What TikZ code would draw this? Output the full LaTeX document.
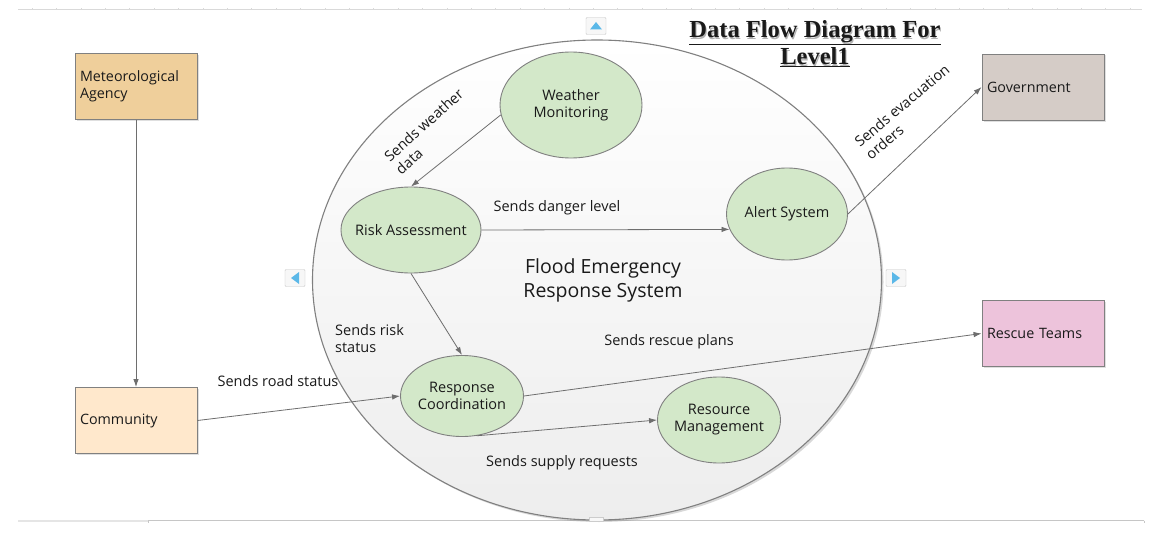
\documentclass[tikz,border=0pt]{standalone}
\usepackage{fontspec}
\setmainfont{Open Sans}
\newfontfamily\titlefont{Liberation Serif}
\usetikzlibrary{shapes.geometric,arrows.meta,shadows,calc}
\definecolor{metc}{HTML}{EFCF9B}
\definecolor{comc}{HTML}{FFE8CC}
\definecolor{govc}{HTML}{D5CCC7}
\definecolor{resc}{HTML}{EDC3DB}
\definecolor{procc}{HTML}{D3E8C9}
\definecolor{edgec}{HTML}{808080}
\definecolor{arrc}{HTML}{6E6E6E}
\definecolor{navc}{HTML}{5BB8E8}
\definecolor{txtc}{HTML}{1A1A1A}
\tikzset{
  entity/.style={rectangle, draw=edgec, line width=0.9pt, minimum width=122pt, minimum height=66pt,
    text width=112pt, align=left, inner sep=5pt, font=\fontsize{14.3}{17}\selectfont, text=txtc,
    drop shadow={opacity=0.25, shadow xshift=1.5pt, shadow yshift=-1.5pt}},
  proc/.style={ellipse, draw=edgec, line width=0.9pt, fill=procc, inner xsep=-20pt, inner ysep=-8pt, align=center,
    font=\fontsize{14.5}{17}\selectfont, text=txtc},
  flow/.style={draw=arrc, line width=0.8pt, -{Latex[length=8pt,width=5.5pt]}},
  lbl/.style={font=\fontsize{14.5}{17}\selectfont, text=txtc, inner sep=0pt},
  navbtn/.style={draw=gray!45, fill=gray!6, rounded corners=1pt, minimum width=20pt, minimum height=17pt, inner sep=0pt}
}
\begin{document}
\begin{tikzpicture}[x=1pt,y=-1pt]
\useasboundingbox (0,0) rectangle (1163,535);
\fill[white] (0,0) rectangle (1163,535);
% rulers
\draw[gray!30, line width=1pt] (18,10) -- (1142,10);
\foreach \i in {0,...,45} { \draw[gray!30, line width=0.6pt] ({32+24.4*\i},10) -- ({32+24.4*\i},8); }
\draw[gray!20, line width=1.2pt] (18,521) -- (148,521);
\draw[gray!45, line width=0.8pt] (148,520.5) -- (1144,520.5);
\draw[gray!45, line width=0.8pt] (148,520.5) -- (148,523);
\draw[gray!45, line width=0.8pt] (1144,520.5) -- (1144,523);
% system boundary
\node[ellipse, draw=edgec, line width=1.1pt, minimum width=569pt, minimum height=480pt, inner sep=0pt,
  top color=white, bottom color=gray!14,
  drop shadow={opacity=0.3, shadow xshift=2pt, shadow yshift=-2pt}] (sys) at (597,280) {};
\node[navbtn] (navt) at (596,26) {};
\fill[navc] ($(navt.center)+(-6,3.5)$) -- ($(navt.center)+(6,3.5)$) -- ($(navt.center)+(0,-4)$) -- cycle;
\node[navbtn] (navl) at (295,278) {};
\fill[navc] ($(navl.center)+(4,-6)$) -- ($(navl.center)+(4,6)$) -- ($(navl.center)+(-4,0)$) -- cycle;
\node[navbtn] (navr) at (896,278) {};
\fill[navc] ($(navr.center)+(-4,-6)$) -- ($(navr.center)+(-4,6)$) -- ($(navr.center)+(4,0)$) -- cycle;
\node[draw=gray!40, fill=gray!6, minimum width=14pt, minimum height=4pt, inner sep=0pt] (navb) at (596,519) {};
% title
\node[font=\titlefont\bfseries\fontsize{24.5}{27}\selectfont, text=gray!60, align=center, inner sep=0pt] (titlesh) at (816,45)
  {Data Flow Diagram For\\Level1};
\node[font=\titlefont\bfseries\fontsize{24.5}{27}\selectfont, text=txtc, align=center, inner sep=0pt] (title) at (815,44)
  {\underline{Data Flow Diagram For}\\\underline{Level1}};
% external entities
\node[entity, fill=metc] (met) at (136,86.5) {Meteorological\\Agency};
\node[entity, fill=comc] (com) at (136,420.5) {Community};
\node[entity, fill=govc] (gov) at (1043,87) {Government};
\node[entity, fill=resc] (res) at (1043,333.5) {Rescue Teams};
% processes
\node[proc, minimum width=142pt, minimum height=106pt] (wm) at (571,105) {Weather\\Monitoring};
\node[proc, minimum width=140pt, minimum height=86pt] (ra) at (411,230) {Risk Assessment};
\node[proc, minimum width=121pt, minimum height=92pt] (as) at (787,214) {Alert System};
\node[proc, minimum width=123pt, minimum height=81pt] (rc) at (462,396) {Response\\Coordination};
\node[proc, minimum width=123pt, minimum height=86pt] (rm) at (719,420) {Resource\\Management};
\node[font=\fontsize{19.5}{24}\selectfont, text=txtc, align=center, inner sep=0pt] (sysname) at (603,280)
  {Flood Emergency\\Response System};
% flows
\draw[flow] (wm.188) -- (ra.north);
\draw[flow] (ra.east) -- (as.195);
\draw[flow] (as.east) -- (gov.west);
\draw[flow] (met.south) -- (com.north);
\draw[flow] (ra.south) -- (rc.north);
\draw[flow] (com.east) -- (rc.west);
\draw[flow] (rc.east) -- (res.west);
\draw[flow] (rc.290) -- (rm.west);
% labels
\node[lbl, rotate=42, anchor=west, align=left] (lw) at (392,165) {Sends weather\\data};
\node[lbl] (ld) at (557,208) {Sends danger level};
\node[lbl, rotate=40, anchor=west, align=left] (le) at (862,150) {Sends evacuation\\orders};
\node[lbl, anchor=west, align=left] (lr) at (335,338.5) {Sends risk\\status};
\node[lbl] (lrd) at (278,381) {Sends road status};
\node[lbl] (lrp) at (669,342) {Sends rescue plans};
\node[lbl] (lsr) at (562,463) {Sends supply requests};
\end{tikzpicture}
\end{document}
